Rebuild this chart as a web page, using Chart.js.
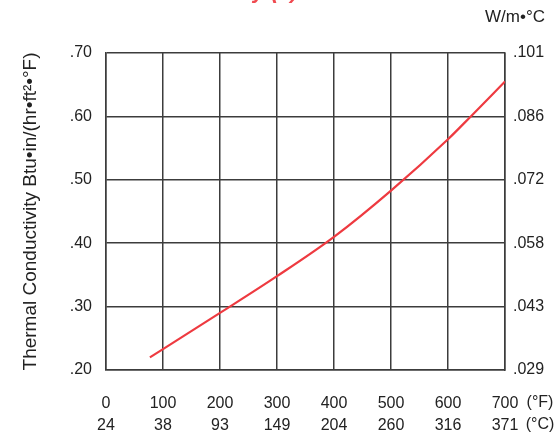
<!DOCTYPE html>
<html lang="en">
<head>
  <meta charset="UTF-8" />
  <title>Thermal Conductivity</title>
  <script src="https://cdn.jsdelivr.net/npm/chart.js"></script>
  <style>
    html, body { margin: 0; padding: 0; background: #fff; }
    #wrap { width: 555px; height: 435px; position: relative; }
  </style>
</head>
<body>
<div id="wrap"><canvas id="chart"></canvas></div>
<script>
  // temperatures in °F and the curve
  const tempF = [77, 100, 200, 300, 400, 500, 600, 640, 700];
  const conductivity = [0.220, 0.233, 0.290, 0.348, 0.410, 0.483, 0.564, 0.600, 0.655];

  // axis labels
  const fLabels = ['0', '100', '200', '300', '400', '500', '600', '700'];
  const cLabels = ['24', '38', '93', '149', '204', '260', '316', '371'];
  const leftLabels = ['.20', '.30', '.40', '.50', '.60', '.70'];
  const rightLabels = ['.029', '.043', '.058', '.072', '.086', '.101'];

  const FONT = '"Liberation Sans Narrow", "Liberation Sans", sans-serif';
  const gridColor = '#3c3c3c';
  const textColor = '#222';
  const red = '#ee3a40';

  const extraText = {
    id: 'extraText',
    afterDraw(chart) {
      const ctx = chart.ctx;
      const area = chart.chartArea;
      ctx.save();
      // cut-off title at the top
      ctx.fillStyle = '#f04a50';
      ctx.font = 'italic bold 22px ' + FONT;
      ctx.textBaseline = 'alphabetic';
      ctx.textAlign = 'left';
      ctx.fillText('Thermal Conductivity (k)', 40, -2);
      // units
      ctx.fillStyle = textColor;
      ctx.font = '17px ' + FONT;
      ctx.textAlign = 'right';
      ctx.textBaseline = 'middle';
      ctx.fillText('W/m\u2022\u00b0C', 545, 17);
      ctx.font = '16px ' + FONT;
      ctx.textAlign = 'center';
      ctx.fillText('(\u00b0F)', area.right + 35, 403);
      ctx.fillText('(\u00b0C)', area.right + 35, 425);
      ctx.restore();
    }
  };

  const idx = v => Math.round((v - 0.2) / 0.1);

  new Chart(document.getElementById('chart'), {
    type: 'line',
    data: {
      datasets: [{
        data: tempF.map((t, i) => ({ x: t, y: conductivity[i] })),
        borderColor: red,
        borderWidth: 2.2,
        pointRadius: 0,
        cubicInterpolationMode: 'monotone',
        fill: false
      }]
    },
    options: {
      responsive: true,
      maintainAspectRatio: false,
      animation: false,
      layout: { padding: { top: 53, left: 0, right: 0, bottom: 0 } },
      plugins: { legend: { display: false }, tooltip: { enabled: false }, title: { display: false } },
      scales: {
        x: {
          type: 'linear',
          min: 0, max: 700,
          afterFit: s => { s.height = 65; },
          afterBuildTicks: s => { s.ticks = fLabels.map((_, i) => ({ value: i * 100 })); },
          ticks: {
            padding: 23,
            color: textColor,
            font: { family: FONT, size: 16, lineHeight: 1.375 },
            maxRotation: 0,
            callback: (v, i) => [fLabels[i], cLabels[i]]
          },
          grid: { color: gridColor, lineWidth: 1.5, drawTicks: false },
          border: { color: gridColor, width: 1.5 }
        },
        y: {
          position: 'left',
          min: 0.2, max: 0.7,
          afterFit: s => { s.width = 106; },
          afterBuildTicks: s => { s.ticks = leftLabels.map((_, i) => ({ value: 0.2 + i * 0.1 })); },
          ticks: {
            padding: 14,
            color: textColor,
            font: { family: FONT, size: 16 },
            callback: v => leftLabels[idx(v)]
          },
          title: {
            display: true,
            text: 'Thermal Conductivity Btu\u2022in/(hr\u2022ft\u00b2\u2022\u00b0F)',
            color: textColor,
            font: { family: FONT, size: 19 },
            padding: { top: 19, bottom: 0 }
          },
          grid: { color: gridColor, lineWidth: 1.5, drawTicks: false },
          border: { color: gridColor, width: 1.5 }
        },
        y1: {
          position: 'right',
          min: 0.2, max: 0.7,
          afterFit: s => { s.width = 50; },
          afterBuildTicks: s => { s.ticks = rightLabels.map((_, i) => ({ value: 0.2 + i * 0.1 })); },
          ticks: {
            padding: 8,
            color: textColor,
            font: { family: FONT, size: 16 },
            callback: v => rightLabels[idx(v)]
          },
          grid: { display: false, drawTicks: false },
          border: { color: gridColor, width: 1.5 }
        }
      }
    },
    plugins: [extraText]
  });
</script>
</body>
</html>
